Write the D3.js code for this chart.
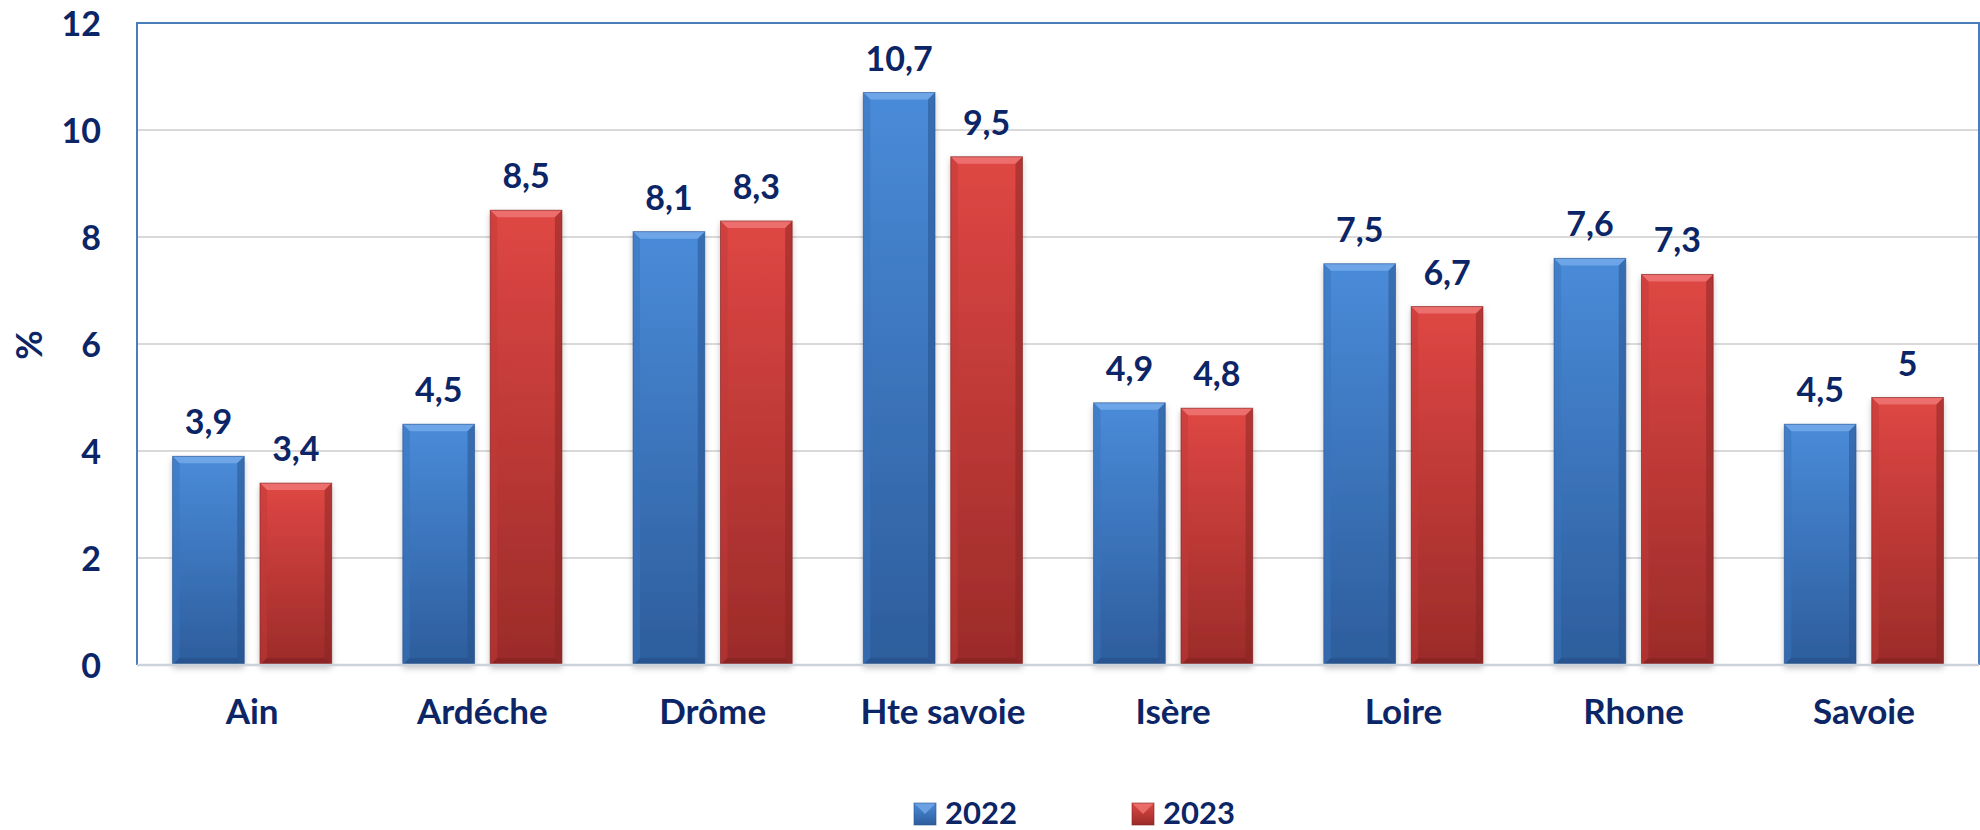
<!DOCTYPE html>
<html><head><meta charset="utf-8">
<script src="https://cdn.jsdelivr.net/npm/d3@7"></script>
<style>body{margin:0;background:#fff}svg{display:block}text{font-family:Lato,"Open Sans",sans-serif;font-weight:bold;fill:#0b2566}</style>
</head><body>
<svg id="c" width="1980" height="830"></svg>
<script>
const categories = ["Ain","Ardéche","Drôme","Hte savoie","Isère","Loire","Rhone","Savoie"];
const seriesNames = ["2022","2023"];
const values2022 = [3.9,4.5,8.1,10.7,4.9,7.5,7.6,4.5];
const values2023 = [3.4,8.5,8.3,9.5,4.8,6.7,7.3,5];
const labels2022 = ["3,9","4,5","8,1","10,7","4,9","7,5","7,6","4,5"];
const labels2023 = ["3,4","8,5","8,3","9,5","4,8","6,7","7,3","5"];
const yTicks = [0,2,4,6,8,10,12];
const yLabel = "%";

const svg = d3.select("#c");
const L = 137, R = 1979, T = 23, B = 665;
const y = d3.scaleLinear().domain([0,12]).range([B,T]);
const x0 = d3.scaleBand().domain(categories).range([L,R]).paddingInner(0.309).paddingOuter(0.1545);
const x1 = d3.scaleBand().domain(seriesNames).range([0,x0.bandwidth()]).paddingInner(0.18);

const pal = {
  "2022": {top:"#4a8bd9", bot:"#2d5d9c", bevelT:"#74a9ea", side:"#3a74bd", bevelB:"#26508a", edge:"#2a5590"},
  "2023": {top:"#df4744", bot:"#9b2b29", bevelT:"#ef7774", side:"#c23a37", bevelB:"#852322", edge:"#7e2322"}
};
const defs = svg.append("defs");
Object.entries(pal).forEach(([k,c])=>{
  const g = defs.append("linearGradient").attr("id","g"+k).attr("x1",0).attr("y1",0).attr("x2",0).attr("y2",1);
  g.append("stop").attr("offset","0%").attr("stop-color",c.top);
  g.append("stop").attr("offset","100%").attr("stop-color",c.bot);
});
const f = defs.append("filter").attr("id","sh").attr("x","-20%").attr("y","-5%").attr("width","140%").attr("height","115%");
f.append("feDropShadow").attr("dx",0).attr("dy",3).attr("stdDeviation",3).attr("flood-color","#000").attr("flood-opacity",0.25);

// gridlines
svg.append("g").selectAll("line").data(yTicks.filter(t=>t>0&&t<12)).join("line")
  .attr("x1",L).attr("x2",R).attr("y1",d=>y(d)).attr("y2",d=>y(d))
  .attr("stroke","#d9d9d9").attr("stroke-width",2);

// y axis labels
const yAxis = d3.axisLeft(y).tickValues(yTicks).tickSize(0).tickPadding(0).tickFormat(d3.format("d"));
const ya = svg.append("g").attr("transform",`translate(101,0)`).call(yAxis);
ya.select(".domain").remove();
ya.selectAll("text").attr("font-size",34).attr("dy","0.36em").attr("fill","#0b2566")
  .style("font-family","Lato,'Open Sans',sans-serif").style("font-weight","bold");

svg.append("text").attr("transform","translate(42,345) rotate(-90)").attr("text-anchor","middle")
  .attr("font-size",36).text(yLabel);

// bars
const data = [];
categories.forEach((c,i)=>{
  data.push({cat:c, s:"2022", v:values2022[i], lab:labels2022[i]});
  data.push({cat:c, s:"2023", v:values2023[i], lab:labels2023[i]});
});
const bw = x1.bandwidth();
const bev = 7;
const bars = svg.append("g").selectAll("g").data(data).join("g")
  .attr("transform",d=>`translate(${x0(d.cat)+x1(d.s)},${y(d.v)})`);
bars.each(function(d){
  const g = d3.select(this);
  const h = y(0)-y(d.v), c = pal[d.s];
  g.append("rect").attr("width",bw).attr("height",h).attr("fill",`url(#g${d.s})`).attr("filter","url(#sh)");
  g.append("polygon").attr("points",`0,0 ${bw},0 ${bw-bev},${bev} ${bev},${bev}`).attr("fill",c.bevelT).attr("opacity",0.85);
  g.append("polygon").attr("points",`0,0 ${bev},${bev} ${bev},${h-bev} 0,${h}`).attr("fill",c.side).attr("opacity",0.5);
  g.append("polygon").attr("points",`${bw},0 ${bw-bev},${bev} ${bw-bev},${h-bev} ${bw},${h}`).attr("fill",c.bevelB).attr("opacity",0.5);
  g.append("polygon").attr("points",`0,${h} ${bev},${h-bev} ${bw-bev},${h-bev} ${bw},${h}`).attr("fill",c.bevelB).attr("opacity",0.7);
  g.append("rect").attr("width",bw).attr("height",h).attr("fill","none").attr("stroke",c.edge).attr("stroke-width",1).attr("stroke-opacity",0.6);
});

// value labels
svg.append("g").selectAll("text").data(data).join("text")
  .attr("x",d=>x0(d.cat)+x1(d.s)+bw/2).attr("y",d=>y(d.v)-22)
  .attr("text-anchor","middle").attr("font-size",34).text(d=>d.lab);

// plot border (left, top, right) and bottom axis
svg.append("path").attr("d",`M${L},${B} V${T} H${R} V${B}`).attr("fill","none").attr("stroke","#4a7ebb").attr("stroke-width",2);
svg.append("line").attr("x1",L).attr("x2",R).attr("y1",B).attr("y2",B).attr("stroke","#cdd2da").attr("stroke-width",2.5);

// x labels
const xAxis = d3.axisBottom(x0).tickSize(0).tickPadding(0);
const xa = svg.append("g").attr("transform",`translate(0,724)`).call(xAxis);
xa.select(".domain").remove();
xa.selectAll("text").attr("font-size",35).attr("dy",0).attr("fill","#0b2566")
  .style("font-family","Lato,'Open Sans',sans-serif").style("font-weight","bold");

// legend
const legX = {"2022":914,"2023":1132};
const lg = svg.append("g").selectAll("g").data(seriesNames).join("g").attr("transform",d=>`translate(${legX[d]},803)`);
lg.each(function(s){
  const g = d3.select(this), c = pal[s], w = 22;
  g.append("rect").attr("width",w).attr("height",w).attr("fill",`url(#g${s})`);
  g.append("polygon").attr("points",`0,0 ${w},0 ${w/2},${w/2}`).attr("fill",c.bevelT).attr("opacity",0.8);
  g.append("rect").attr("width",w).attr("height",w).attr("fill","none").attr("stroke",c.edge).attr("stroke-opacity",0.6);
  g.append("text").attr("x",31).attr("y",21).attr("font-size",31).text(s);
});
</script>
</body></html>
